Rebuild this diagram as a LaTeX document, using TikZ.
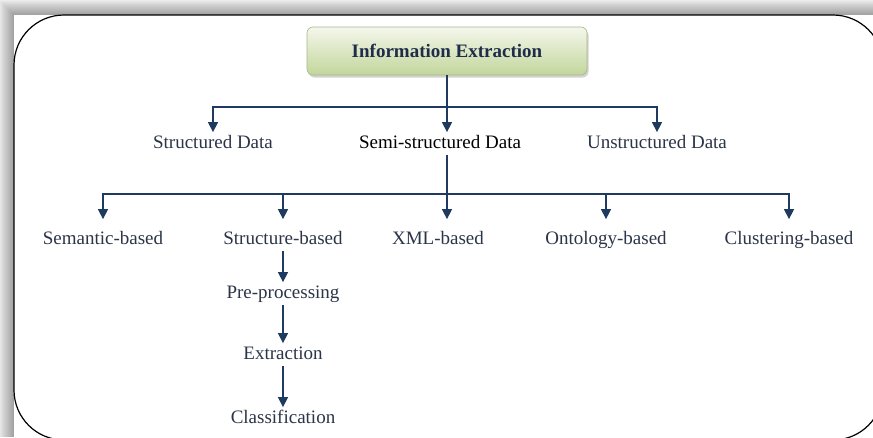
\documentclass[tikz,border=0pt]{standalone}
\usepackage{fontspec}
\setmainfont{Liberation Serif}
\usepackage{xcolor}
\usepackage{tikz}
\usetikzlibrary{arrows.meta, positioning, shadows, calc}

\definecolor{ienavy}{HTML}{1F3A5F}
\definecolor{ietitle}{HTML}{1F2D4A}
\definecolor{ietext}{HTML}{2B3548}
\definecolor{boxtop}{HTML}{F4F7EC}
\definecolor{boxbot}{HTML}{C3D69B}
\definecolor{boxline}{HTML}{A7B88A}

\begin{document}
\begin{tikzpicture}[x=1pt, y=-1pt,
    font=\fontsize{19}{22}\selectfont,
    lbl/.style={anchor=base, inner sep=2pt, text height=13.7pt, text depth=4.8pt, text=ietext},
    link/.style={draw=ienavy, line width=1.4pt},
    tip/.style={link, -{Triangle[width=10pt, length=10pt]}},
  ]
    % Page with soft shadow on top and left
    \useasboundingbox (0,0) rectangle (873,437);
    \fill[gray!15] (0,0) rectangle (873,437);
    \foreach \i in {0,...,14} {
        \fill[black, opacity=0.025] (14-\i, 15-\i) rectangle (873, 437);
    }
    \fill[white] (14,15) rectangle (873,437);
    \draw[line width=1.2pt, rounded corners=50pt] (14,15) rectangle (883,440); % outer frame

    % Root box
    \node[draw=boxline, line width=0.6pt, rounded corners=6pt, top color=boxtop, bottom color=boxbot,
          minimum width=280pt, minimum height=48pt,
          drop shadow={shadow xshift=1.5pt, shadow yshift=-2.5pt, opacity=0.35},
          font=\fontsize{19}{22}\selectfont\bfseries, text=ietitle] (ie) at (447,51) {Information Extraction};

    % First level
    \node[lbl] (sd) at (213,148) {Structured Data};
    \node[lbl, text=black] (ssd) at (440,148) {Semi-structured Data};
    \node[lbl] (ud) at (657,148) {Unstructured Data};

    \coordinate (j1) at (447,107);
    \draw[link] (ie.south) -- (j1);
    \draw[tip] (j1) -| (sd.north);
    \draw[tip] (j1) -- (j1 |- ssd.north);
    \draw[tip] (j1) -| (ud.north);

    % Second level (semi-structured)
    \node[lbl] (semb) at (103,244) {Semantic-based};
    \node[lbl] (strb) at (283,244) {Structure-based};
    \node[lbl] (xml) at (438,244) {XML-based};
    \node[lbl] (ont) at (606,244) {Ontology-based};
    \node[lbl] (clu) at (789,244) {Clustering-based};

    \coordinate (j2) at (447,194);
    \draw[link] (j2 |- ssd.south) -- (j2);
    \draw[tip, shorten >=9pt] (j2) -| (semb.north);
    \draw[tip, shorten >=9pt] (j2) -| (strb.north);
    \draw[tip, shorten >=9pt] (j2) -- (j2 |- xml.north);
    \draw[tip, shorten >=9pt] (j2) -| (ont.north);
    \draw[tip, shorten >=9pt] (j2) -| (clu.north);

    % Structure-based steps
    \node[lbl] (pre) at (283,298) {Pre-processing};
    \node[lbl] (ext) at (283,359) {Extraction};
    \node[lbl] (cls) at (283,423) {Classification};

    \draw[tip] (strb.south) -- (pre.north);
    \draw[tip] (pre.south) -- (ext.north);
    \draw[tip] (ext.south) -- (cls.north);
\end{tikzpicture}
\end{document}
